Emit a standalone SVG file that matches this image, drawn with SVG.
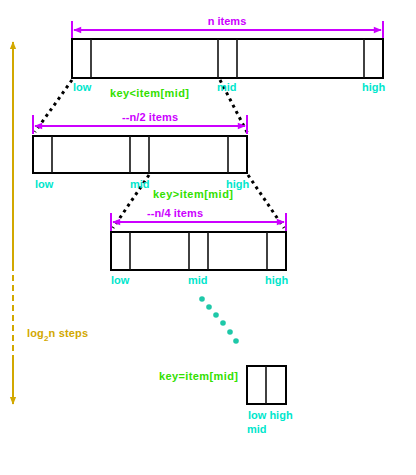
<svg xmlns="http://www.w3.org/2000/svg" width="416" height="475" viewBox="0 0 416 475">
<style>
text{font-family:"Liberation Sans",Arial,sans-serif;font-weight:bold;font-size:11px}
.lbl{fill:#00e6cc}
.key{fill:#33e000}
.dim{fill:#cc00ff}
.box{fill:#fff;stroke:#000;stroke-width:2}
.div{stroke:#111;stroke-width:1.6}
.dimln{stroke:#cc00ff;stroke-width:2;fill:none}
.dot{stroke:#000;stroke-width:3;stroke-dasharray:3 4;fill:none}
.yel{stroke:#d2a800;stroke-width:2;fill:none}
</style>
<defs>
<marker id="ma" viewBox="0 0 10 10" refX="9" refY="5" markerWidth="5" markerHeight="4" orient="auto-start-reverse">
<path d="M0,1 L10,5 L0,9 z" fill="#cc00ff"/>
</marker>
<marker id="ya" viewBox="0 0 10 10" refX="9" refY="5" markerWidth="4" markerHeight="4" orient="auto-start-reverse">
<path d="M0,1 L10,5 L0,9 z" fill="#d2a800"/>
</marker>
</defs>
<g id="connectors">
<line class="dot" x1="72" y1="80" x2="35" y2="132"/>
<line class="dot" x1="220" y1="80" x2="248" y2="134"/>
<line class="dot" x1="149" y1="175" x2="113" y2="228"/>
<line class="dot" x1="248" y1="175" x2="284" y2="228"/>
<g fill="#1ec8a8">
<circle cx="202" cy="299" r="2.8"/><circle cx="209" cy="307" r="2.8"/><circle cx="216" cy="315" r="2.8"/>
<circle cx="223" cy="323" r="2.8"/><circle cx="230" cy="332" r="2.8"/><circle cx="236" cy="341" r="2.8"/>
</g>
</g>
<g id="steps">
<line class="yel" x1="13" y1="265" x2="13" y2="42" marker-end="url(#ya)"/>
<line class="yel" x1="13" y1="265" x2="13" y2="360" stroke-dasharray="6 4"/>
<line class="yel" x1="13" y1="360" x2="13" y2="404" marker-end="url(#ya)"/>
<text x="27" y="337" fill="#d2a800" textLength="61">log<tspan dy="4" font-size="8">2</tspan><tspan dy="-4">n steps</tspan></text>
</g>
<g id="array1">
<line class="dimln" x1="72" y1="21" x2="72" y2="38"/>
<line class="dimln" x1="383" y1="21" x2="383" y2="38"/>
<line class="dimln" x1="74" y1="30" x2="381" y2="30" marker-start="url(#ma)" marker-end="url(#ma)"/>
<text class="dim" x="227" y="25" text-anchor="middle">n  items</text>
<rect class="box" x="72" y="39" width="311" height="39"/>
<line class="div" x1="91" y1="39" x2="91" y2="78"/>
<line class="div" x1="218" y1="39" x2="218" y2="78"/>
<line class="div" x1="237" y1="39" x2="237" y2="78"/>
<line class="div" x1="364" y1="39" x2="364" y2="78"/>
<text class="lbl" x="73" y="91">low</text>
<text class="lbl" x="217" y="91">mid</text>
<text class="lbl" x="362" y="91">high</text>
<text class="key" x="110" y="97" textLength="79">key&lt;item[mid]</text>
</g>
<g id="array2">
<line class="dimln" x1="33" y1="115" x2="33" y2="134"/>
<line class="dimln" x1="247" y1="115" x2="247" y2="134"/>
<line class="dimln" x1="35" y1="126" x2="245" y2="126" marker-start="url(#ma)" marker-end="url(#ma)"/>
<text class="dim" x="122" y="121" textLength="56">--n/2 items</text>
<rect class="box" x="33" y="136" width="214" height="37"/>
<line class="div" x1="52" y1="136" x2="52" y2="173"/>
<line class="div" x1="130" y1="136" x2="130" y2="173"/>
<line class="div" x1="149" y1="136" x2="149" y2="173"/>
<line class="div" x1="228" y1="136" x2="228" y2="173"/>
<text class="lbl" x="35" y="188">low</text>
<text class="lbl" x="130" y="188">mid</text>
<text class="lbl" x="226" y="188">high</text>
<text class="key" x="153" y="198" textLength="80">key&gt;item[mid]</text>
</g>
<g id="array3">
<line class="dimln" x1="111" y1="213" x2="111" y2="231"/>
<line class="dimln" x1="286" y1="213" x2="286" y2="231"/>
<line class="dimln" x1="113" y1="222" x2="284" y2="222" marker-start="url(#ma)" marker-end="url(#ma)"/>
<text class="dim" x="147" y="217" textLength="56">--n/4 items</text>
<rect class="box" x="111" y="232" width="175" height="38"/>
<line class="div" x1="130" y1="232" x2="130" y2="270"/>
<line class="div" x1="189" y1="232" x2="189" y2="270"/>
<line class="div" x1="208" y1="232" x2="208" y2="270"/>
<line class="div" x1="267" y1="232" x2="267" y2="270"/>
<text class="lbl" x="111" y="284">low</text>
<text class="lbl" x="188" y="284">mid</text>
<text class="lbl" x="265" y="284">high</text>
</g>
<g id="array4">
<rect class="box" x="247" y="366" width="39" height="38"/>
<line class="div" x1="266" y1="366" x2="266" y2="404"/>
<text class="key" x="159" y="380" textLength="79">key=item[mid]</text>
<text class="lbl" x="248" y="419">low high</text>
<text class="lbl" x="247" y="433">mid</text>
</g>
</svg>
